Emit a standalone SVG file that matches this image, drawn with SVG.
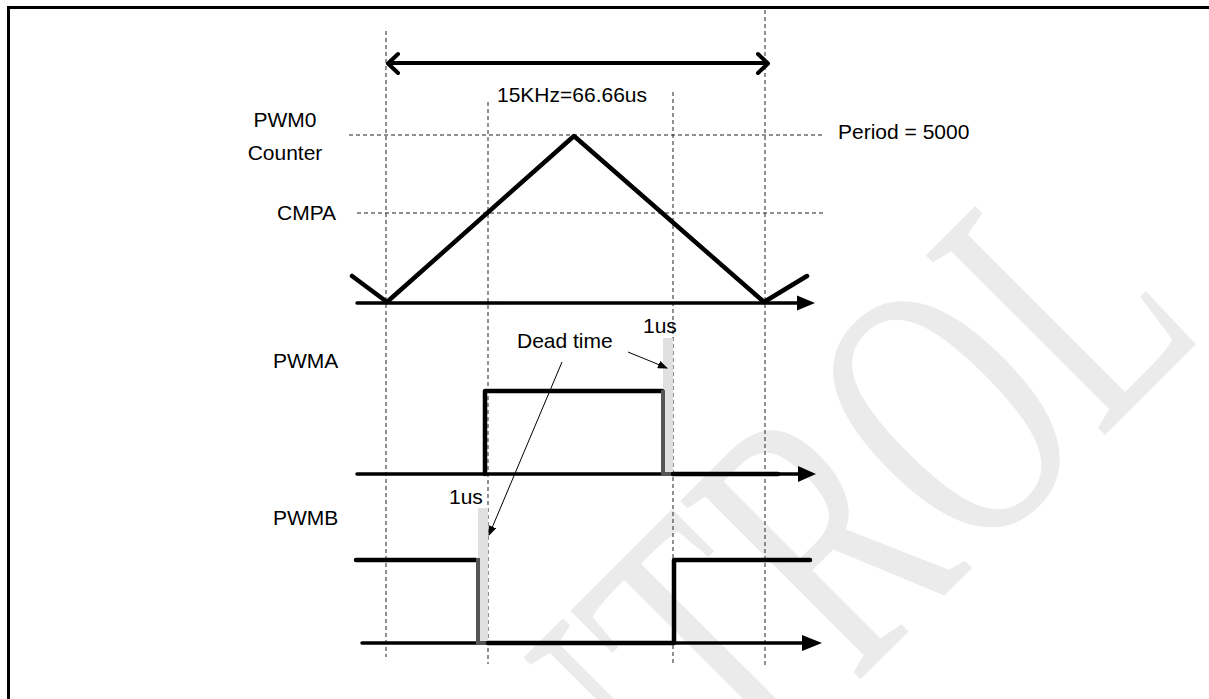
<svg xmlns="http://www.w3.org/2000/svg" width="1209" height="699" viewBox="0 0 1209 699">
<defs>
<style>
.t{font-family:"Liberation Sans",Arial,sans-serif;font-size:21px;fill:#000}
.dash{stroke:#222;stroke-width:1;stroke-dasharray:4 3;fill:none}
.ax{stroke:#000;stroke-width:3.5;fill:none;stroke-linecap:round}
.wv{stroke:#000;stroke-width:4.5;fill:none;stroke-linecap:round;stroke-linejoin:round}
.edge{stroke:#555;stroke-width:4;fill:none}
.bar{fill:#e0e0e0}
.thin{stroke:#000;stroke-width:1;fill:none}
</style>
<marker id="ah" markerWidth="10" markerHeight="8" refX="9" refY="4" orient="auto" markerUnits="userSpaceOnUse">
<path d="M0,0 L10,4 L0,8 Z" fill="#000"/>
</marker>
</defs>
<rect width="1209" height="699" fill="#fff"/>
<g id="watermark">
<text transform="translate(1208,332) rotate(-45) scale(1,1.55)" text-anchor="end" font-family="'Liberation Serif',serif" font-size="250" fill="#ebebeb">CONTROL</text>
</g>
<g id="frame"><path d="M8.5,699 V7.5 H1209" stroke="#000" stroke-width="3" fill="none"/></g>
<g id="guides">
<line class="dash" x1="386" y1="31" x2="386" y2="657"/>
<line class="dash" x1="488" y1="102" x2="488" y2="664"/>
<line class="dash" x1="673" y1="92" x2="673" y2="663"/>
<line class="dash" x1="765" y1="10" x2="765" y2="666"/>
<line class="dash" x1="349" y1="135" x2="822" y2="135"/>
<line class="dash" x1="357" y1="213" x2="826" y2="213"/>
</g>
<g id="bars">
<rect class="bar" x="663" y="338" width="10" height="138"/>
<rect class="bar" x="478" y="508" width="10" height="137"/>
</g>
<g id="period-arrow">
<line x1="389" y1="63" x2="767" y2="63" stroke="#000" stroke-width="4"/>
<path d="M398,54 L388,63.5 L398,73 M758,54 L768,63.5 L758,73" stroke="#000" stroke-width="4" fill="none" stroke-linecap="round" stroke-linejoin="round"/>
</g>
<g id="counter">
<line class="ax" x1="357" y1="303" x2="800" y2="303"/>
<polygon points="797,295.5 815,303 797,310.5"/>
<polyline class="wv" points="352,276 387,302 574,136 764,302 807,276"/>
</g>
<g id="pwma">
<line class="ax" x1="357" y1="474" x2="800" y2="474"/>
<polygon points="798,466 816,474 798,482"/>
<polyline class="wv" points="485,474 485,391 662,391"/>
<polyline class="edge" points="663,390 663,474 673,474"/>
<line class="wv" x1="673" y1="474" x2="778" y2="474"/>
</g>
<g id="pwmb">
<line class="ax" x1="362" y1="643" x2="805" y2="643"/>
<polygon points="802,635 822,643 802,651"/>
<line class="wv" x1="356" y1="560" x2="476" y2="560"/>
<polyline class="edge" points="478,558 478,643 488,643"/>
<polyline class="wv" points="488,643 674,643 674,560 810,560"/>
</g>
<g id="connectors">
<line class="thin" x1="628" y1="352" x2="667" y2="368" marker-end="url(#ah)"/>
<line class="thin" x1="562" y1="362" x2="489" y2="535" marker-end="url(#ah)"/>
</g>
<g id="labels">
<text class="t" x="497" y="102">15KHz=66.66us</text>
<text class="t" x="838" y="139">Period = 5000</text>
<text class="t" x="285" y="127" text-anchor="middle">PWM0</text>
<text class="t" x="285" y="160" text-anchor="middle">Counter</text>
<text class="t" x="277" y="220">CMPA</text>
<text class="t" x="273" y="368">PWMA</text>
<text class="t" x="273" y="525">PWMB</text>
<text class="t" x="517" y="348">Dead time</text>
<text class="t" x="643" y="333">1us</text>
<text class="t" x="449" y="504">1us</text>
</g>
</svg>
